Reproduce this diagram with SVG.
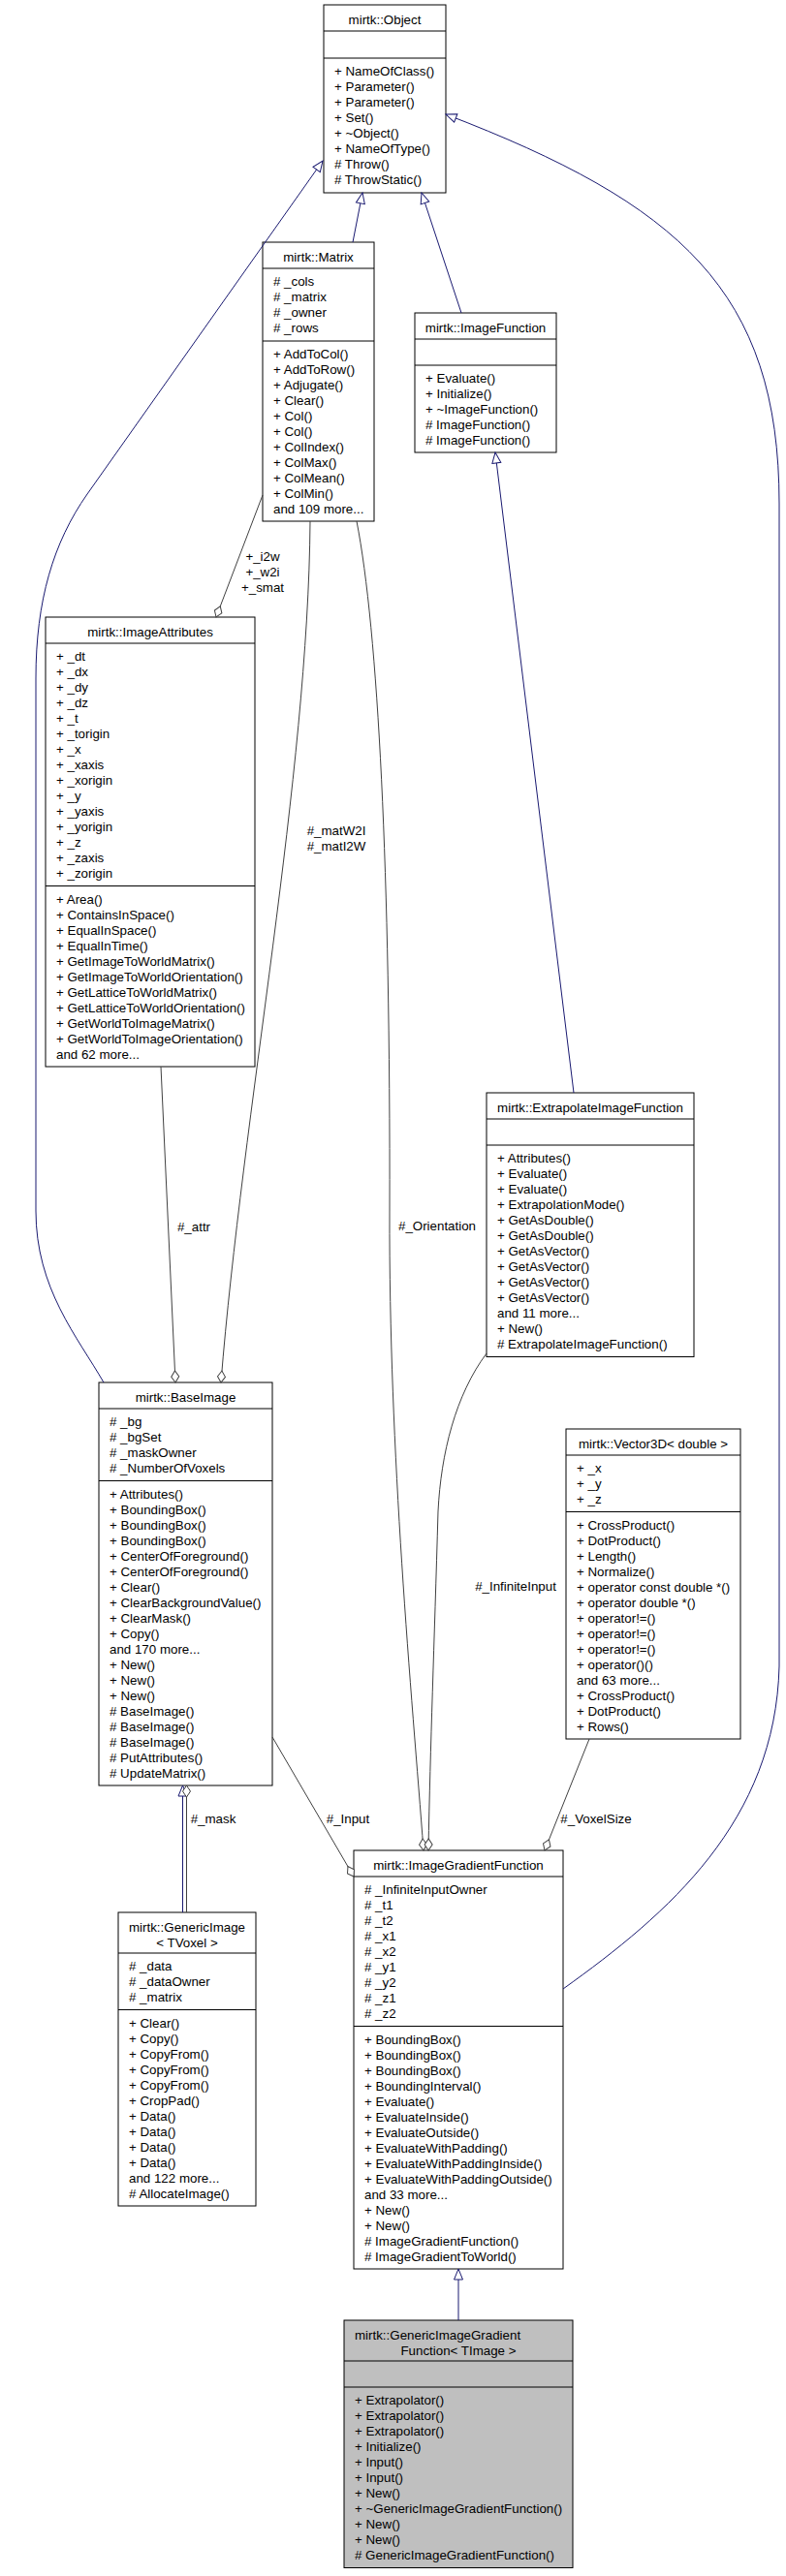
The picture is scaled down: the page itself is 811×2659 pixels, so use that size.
<svg xmlns="http://www.w3.org/2000/svg" width="811" height="2659" viewBox="0 0 811 2659">
<style>
.bg{fill:#ffffff}
.box{fill:#ffffff;stroke:#000000;stroke-width:1}
.gray{fill:#bfbfbf}
.sep{stroke:#000000;stroke-width:1}
.t{font-family:"Liberation Sans",Arial,Helvetica,sans-serif;font-size:13.33px;fill:#000000}
.c{text-anchor:middle}
.inh{fill:none;stroke:#191970;stroke-width:1}
.use{fill:none;stroke:#404040;stroke-width:1}
.inh-s{marker-start:url(#tri)}
.use-s{marker-start:url(#dia)}
</style>
<defs>
<marker id="tri" markerUnits="userSpaceOnUse" markerWidth="16" markerHeight="16" refX="0" refY="0" orient="auto" overflow="visible">
<path d="M0,0 L11,-4.5 L11,4.5 Z" fill="#ffffff" stroke="#191970" stroke-width="1"/>
</marker>
<marker id="dia" markerUnits="userSpaceOnUse" markerWidth="16" markerHeight="16" refX="0" refY="0" orient="auto" overflow="visible">
<path d="M0,0 L6,-4 L12,0 L6,4 Z" fill="#ffffff" stroke="#404040" stroke-width="1"/>
</marker>
</defs>
<rect class="bg" x="0" y="0" width="811" height="2659"/>

<g id="object">
<rect class="box" x="334" y="5" width="126" height="194"/>
<line class="sep" x1="334" y1="32" x2="460" y2="32"/>
<line class="sep" x1="334" y1="60" x2="460" y2="60"/>
<text class="t c" x="397" y="24.5">mirtk::Object</text>
<text class="t" x="345" y="78"><tspan x="345">+ NameOfClass()</tspan><tspan x="345" dy="16">+ Parameter()</tspan><tspan x="345" dy="16">+ Parameter()</tspan><tspan x="345" dy="16">+ Set()</tspan><tspan x="345" dy="16">+ ~Object()</tspan><tspan x="345" dy="16">+ NameOfType()</tspan><tspan x="345" dy="16"># Throw()</tspan><tspan x="345" dy="16"># ThrowStatic()</tspan></text>
</g>

<g id="matrix">
<rect class="box" x="271" y="250" width="115" height="288"/>
<line class="sep" x1="271" y1="277" x2="386" y2="277"/>
<line class="sep" x1="271" y1="352" x2="386" y2="352"/>
<text class="t c" x="328.5" y="269.5">mirtk::Matrix</text>
<text class="t" x="282" y="295"><tspan x="282"># _cols</tspan><tspan x="282" dy="16"># _matrix</tspan><tspan x="282" dy="16"># _owner</tspan><tspan x="282" dy="16"># _rows</tspan></text>
<text class="t" x="282" y="370"><tspan x="282">+ AddToCol()</tspan><tspan x="282" dy="16">+ AddToRow()</tspan><tspan x="282" dy="16">+ Adjugate()</tspan><tspan x="282" dy="16">+ Clear()</tspan><tspan x="282" dy="16">+ Col()</tspan><tspan x="282" dy="16">+ Col()</tspan><tspan x="282" dy="16">+ ColIndex()</tspan><tspan x="282" dy="16">+ ColMax()</tspan><tspan x="282" dy="16">+ ColMean()</tspan><tspan x="282" dy="16">+ ColMin()</tspan><tspan x="282" dy="16">and 109 more...</tspan></text>
</g>

<g id="imagefunction">
<rect class="box" x="428" y="323" width="146" height="144"/>
<line class="sep" x1="428" y1="350" x2="574" y2="350"/>
<line class="sep" x1="428" y1="377" x2="574" y2="377"/>
<text class="t c" x="501" y="342.5">mirtk::ImageFunction</text>
<text class="t" x="439" y="395"><tspan x="439">+ Evaluate()</tspan><tspan x="439" dy="16">+ Initialize()</tspan><tspan x="439" dy="16">+ ~ImageFunction()</tspan><tspan x="439" dy="16"># ImageFunction()</tspan><tspan x="439" dy="16"># ImageFunction()</tspan></text>
</g>

<g id="imageattributes">
<rect class="box" x="47" y="637" width="216" height="464"/>
<line class="sep" x1="47" y1="664" x2="263" y2="664"/>
<line class="sep" x1="47" y1="914.5" x2="263" y2="914.5"/>
<text class="t c" x="155" y="656.5">mirtk::ImageAttributes</text>
<text class="t" x="58" y="682"><tspan x="58">+ _dt</tspan><tspan x="58" dy="16">+ _dx</tspan><tspan x="58" dy="16">+ _dy</tspan><tspan x="58" dy="16">+ _dz</tspan><tspan x="58" dy="16">+ _t</tspan><tspan x="58" dy="16">+ _torigin</tspan><tspan x="58" dy="16">+ _x</tspan><tspan x="58" dy="16">+ _xaxis</tspan><tspan x="58" dy="16">+ _xorigin</tspan><tspan x="58" dy="16">+ _y</tspan><tspan x="58" dy="16">+ _yaxis</tspan><tspan x="58" dy="16">+ _yorigin</tspan><tspan x="58" dy="16">+ _z</tspan><tspan x="58" dy="16">+ _zaxis</tspan><tspan x="58" dy="16">+ _zorigin</tspan></text>
<text class="t" x="58" y="932.5"><tspan x="58">+ Area()</tspan><tspan x="58" dy="16">+ ContainsInSpace()</tspan><tspan x="58" dy="16">+ EqualInSpace()</tspan><tspan x="58" dy="16">+ EqualInTime()</tspan><tspan x="58" dy="16">+ GetImageToWorldMatrix()</tspan><tspan x="58" dy="16">+ GetImageToWorldOrientation()</tspan><tspan x="58" dy="16">+ GetLatticeToWorldMatrix()</tspan><tspan x="58" dy="16">+ GetLatticeToWorldOrientation()</tspan><tspan x="58" dy="16">+ GetWorldToImageMatrix()</tspan><tspan x="58" dy="16">+ GetWorldToImageOrientation()</tspan><tspan x="58" dy="16">and 62 more...</tspan></text>
</g>

<g id="extrapolateimagefunction">
<rect class="box" x="502" y="1128" width="214" height="272.5"/>
<line class="sep" x1="502" y1="1155" x2="716" y2="1155"/>
<line class="sep" x1="502" y1="1182" x2="716" y2="1182"/>
<text class="t c" x="609" y="1147.5">mirtk::ExtrapolateImageFunction</text>
<text class="t" x="513" y="1200"><tspan x="513">+ Attributes()</tspan><tspan x="513" dy="16">+ Evaluate()</tspan><tspan x="513" dy="16">+ Evaluate()</tspan><tspan x="513" dy="16">+ ExtrapolationMode()</tspan><tspan x="513" dy="16">+ GetAsDouble()</tspan><tspan x="513" dy="16">+ GetAsDouble()</tspan><tspan x="513" dy="16">+ GetAsVector()</tspan><tspan x="513" dy="16">+ GetAsVector()</tspan><tspan x="513" dy="16">+ GetAsVector()</tspan><tspan x="513" dy="16">+ GetAsVector()</tspan><tspan x="513" dy="16">and 11 more...</tspan><tspan x="513" dy="16">+ New()</tspan><tspan x="513" dy="16"># ExtrapolateImageFunction()</tspan></text>
</g>

<g id="baseimage">
<rect class="box" x="102" y="1427" width="179" height="416"/>
<line class="sep" x1="102" y1="1454" x2="281" y2="1454"/>
<line class="sep" x1="102" y1="1528.5" x2="281" y2="1528.5"/>
<text class="t c" x="191.5" y="1446.5">mirtk::BaseImage</text>
<text class="t" x="113" y="1472"><tspan x="113"># _bg</tspan><tspan x="113" dy="16"># _bgSet</tspan><tspan x="113" dy="16"># _maskOwner</tspan><tspan x="113" dy="16"># _NumberOfVoxels</tspan></text>
<text class="t" x="113" y="1546.5"><tspan x="113">+ Attributes()</tspan><tspan x="113" dy="16">+ BoundingBox()</tspan><tspan x="113" dy="16">+ BoundingBox()</tspan><tspan x="113" dy="16">+ BoundingBox()</tspan><tspan x="113" dy="16">+ CenterOfForeground()</tspan><tspan x="113" dy="16">+ CenterOfForeground()</tspan><tspan x="113" dy="16">+ Clear()</tspan><tspan x="113" dy="16">+ ClearBackgroundValue()</tspan><tspan x="113" dy="16">+ ClearMask()</tspan><tspan x="113" dy="16">+ Copy()</tspan><tspan x="113" dy="16">and 170 more...</tspan><tspan x="113" dy="16">+ New()</tspan><tspan x="113" dy="16">+ New()</tspan><tspan x="113" dy="16">+ New()</tspan><tspan x="113" dy="16"># BaseImage()</tspan><tspan x="113" dy="16"># BaseImage()</tspan><tspan x="113" dy="16"># BaseImage()</tspan><tspan x="113" dy="16"># PutAttributes()</tspan><tspan x="113" dy="16"># UpdateMatrix()</tspan></text>
</g>

<g id="vector3d">
<rect class="box" x="584" y="1475" width="180" height="320"/>
<line class="sep" x1="584" y1="1502" x2="764" y2="1502"/>
<line class="sep" x1="584" y1="1560.5" x2="764" y2="1560.5"/>
<text class="t c" x="674" y="1494.5">mirtk::Vector3D&lt; double &gt;</text>
<text class="t" x="595" y="1520"><tspan x="595">+ _x</tspan><tspan x="595" dy="16">+ _y</tspan><tspan x="595" dy="16">+ _z</tspan></text>
<text class="t" x="595" y="1578.5"><tspan x="595">+ CrossProduct()</tspan><tspan x="595" dy="16">+ DotProduct()</tspan><tspan x="595" dy="16">+ Length()</tspan><tspan x="595" dy="16">+ Normalize()</tspan><tspan x="595" dy="16">+ operator const double *()</tspan><tspan x="595" dy="16">+ operator double *()</tspan><tspan x="595" dy="16">+ operator!=()</tspan><tspan x="595" dy="16">+ operator!=()</tspan><tspan x="595" dy="16">+ operator!=()</tspan><tspan x="595" dy="16">+ operator()()</tspan><tspan x="595" dy="16">and 63 more...</tspan><tspan x="595" dy="16">+ CrossProduct()</tspan><tspan x="595" dy="16">+ DotProduct()</tspan><tspan x="595" dy="16">+ Rows()</tspan></text>
</g>

<g id="imagegradientfunction">
<rect class="box" x="365" y="1910" width="216" height="432"/>
<line class="sep" x1="365" y1="1937" x2="581" y2="1937"/>
<line class="sep" x1="365" y1="2091.5" x2="581" y2="2091.5"/>
<text class="t c" x="473" y="1929.5">mirtk::ImageGradientFunction</text>
<text class="t" x="376" y="1955"><tspan x="376"># _InfiniteInputOwner</tspan><tspan x="376" dy="16"># _t1</tspan><tspan x="376" dy="16"># _t2</tspan><tspan x="376" dy="16"># _x1</tspan><tspan x="376" dy="16"># _x2</tspan><tspan x="376" dy="16"># _y1</tspan><tspan x="376" dy="16"># _y2</tspan><tspan x="376" dy="16"># _z1</tspan><tspan x="376" dy="16"># _z2</tspan></text>
<text class="t" x="376" y="2109.5"><tspan x="376">+ BoundingBox()</tspan><tspan x="376" dy="16">+ BoundingBox()</tspan><tspan x="376" dy="16">+ BoundingBox()</tspan><tspan x="376" dy="16">+ BoundingInterval()</tspan><tspan x="376" dy="16">+ Evaluate()</tspan><tspan x="376" dy="16">+ EvaluateInside()</tspan><tspan x="376" dy="16">+ EvaluateOutside()</tspan><tspan x="376" dy="16">+ EvaluateWithPadding()</tspan><tspan x="376" dy="16">+ EvaluateWithPaddingInside()</tspan><tspan x="376" dy="16">+ EvaluateWithPaddingOutside()</tspan><tspan x="376" dy="16">and 33 more...</tspan><tspan x="376" dy="16">+ New()</tspan><tspan x="376" dy="16">+ New()</tspan><tspan x="376" dy="16"># ImageGradientFunction()</tspan><tspan x="376" dy="16"># ImageGradientToWorld()</tspan></text>
</g>

<g id="genericimage">
<rect class="box" x="122" y="1974" width="142" height="303"/>
<line class="sep" x1="122" y1="2016" x2="264" y2="2016"/>
<line class="sep" x1="122" y1="2074.5" x2="264" y2="2074.5"/>
<text class="t" x="133" y="1993.5">mirtk::GenericImage</text>
<text class="t c" x="193" y="2009.5">&lt; TVoxel &gt;</text>
<text class="t" x="133" y="2034"><tspan x="133"># _data</tspan><tspan x="133" dy="16"># _dataOwner</tspan><tspan x="133" dy="16"># _matrix</tspan></text>
<text class="t" x="133" y="2092.5"><tspan x="133">+ Clear()</tspan><tspan x="133" dy="16">+ Copy()</tspan><tspan x="133" dy="16">+ CopyFrom()</tspan><tspan x="133" dy="16">+ CopyFrom()</tspan><tspan x="133" dy="16">+ CopyFrom()</tspan><tspan x="133" dy="16">+ CropPad()</tspan><tspan x="133" dy="16">+ Data()</tspan><tspan x="133" dy="16">+ Data()</tspan><tspan x="133" dy="16">+ Data()</tspan><tspan x="133" dy="16">+ Data()</tspan><tspan x="133" dy="16">and 122 more...</tspan><tspan x="133" dy="16"># AllocateImage()</tspan></text>
</g>

<g id="genericimagegradientfunction">
<rect class="box gray" x="355" y="2395" width="236" height="255.5"/>
<line class="sep" x1="355" y1="2437" x2="591" y2="2437"/>
<line class="sep" x1="355" y1="2464" x2="591" y2="2464"/>
<text class="t" x="366" y="2414.5">mirtk::GenericImageGradient</text>
<text class="t c" x="473" y="2430.5">Function&lt; TImage &gt;</text>
<text class="t" x="366" y="2482"><tspan x="366">+ Extrapolator()</tspan><tspan x="366" dy="16">+ Extrapolator()</tspan><tspan x="366" dy="16">+ Extrapolator()</tspan><tspan x="366" dy="16">+ Initialize()</tspan><tspan x="366" dy="16">+ Input()</tspan><tspan x="366" dy="16">+ Input()</tspan><tspan x="366" dy="16">+ New()</tspan><tspan x="366" dy="16">+ ~GenericImageGradientFunction()</tspan><tspan x="366" dy="16">+ New()</tspan><tspan x="366" dy="16">+ New()</tspan><tspan x="366" dy="16"># GenericImageGradientFunction()</tspan></text>
</g>

<g id="connectors">
<path class="inh inh-s" d="M374,199 L364,250"/>
<path class="inh inh-s" d="M435,199 L476,323"/>
<path class="inh inh-s" d="M511,467 L592,1128"/>
<path class="inh inh-s" d="M333,166 L90,510 C55,560 37,620 37,700 L37,1250 C37,1330 80,1380 107,1427"/>
<path class="inh inh-s" d="M460,118 C700,210 804,300 804,520 L804,1720 C800,1880 690,1975 581,2053"/>
<path class="inh inh-s" d="M188.5,1843 L188.5,1974"/>
<path class="inh inh-s" d="M473,2342 L473,2395"/>
<path class="use use-s" d="M192.5,1843 L192.5,1974"/>
<path class="use use-s" d="M181,1427 L166,1101"/>
<path class="use use-s" d="M228,1427 C250,1150 318,800 320,538"/>
<path class="use use-s" d="M223,637 L271,511"/>
<path class="use use-s" d="M437,1910 C425,1750 401,1500 402,1250 C403,900 390,650 368,538"/>
<path class="use use-s" d="M442,1910 C444,1800 448,1700 452,1560 C455,1500 470,1440 502,1397"/>
<path class="use use-s" d="M365,1937 L281,1793"/>
<path class="use use-s" d="M562,1910 L608,1795"/>
<text class="t c" x="271" y="578.5">+_i2w</text>
<text class="t c" x="271" y="594.5">+_w2i</text>
<text class="t c" x="271" y="610.5">+_smat</text>
<text class="t c" x="347" y="862">#_matW2I</text>
<text class="t c" x="347" y="878">#_matI2W</text>
<text class="t c" x="451" y="1270">#_Orientation</text>
<text class="t c" x="200" y="1270.5">#_attr</text>
<text class="t c" x="532" y="1641.5">#_InfiniteInput</text>
<text class="t c" x="220" y="1882">#_mask</text>
<text class="t c" x="359" y="1882">#_Input</text>
<text class="t c" x="615" y="1882">#_VoxelSize</text>
</g>
</svg>
